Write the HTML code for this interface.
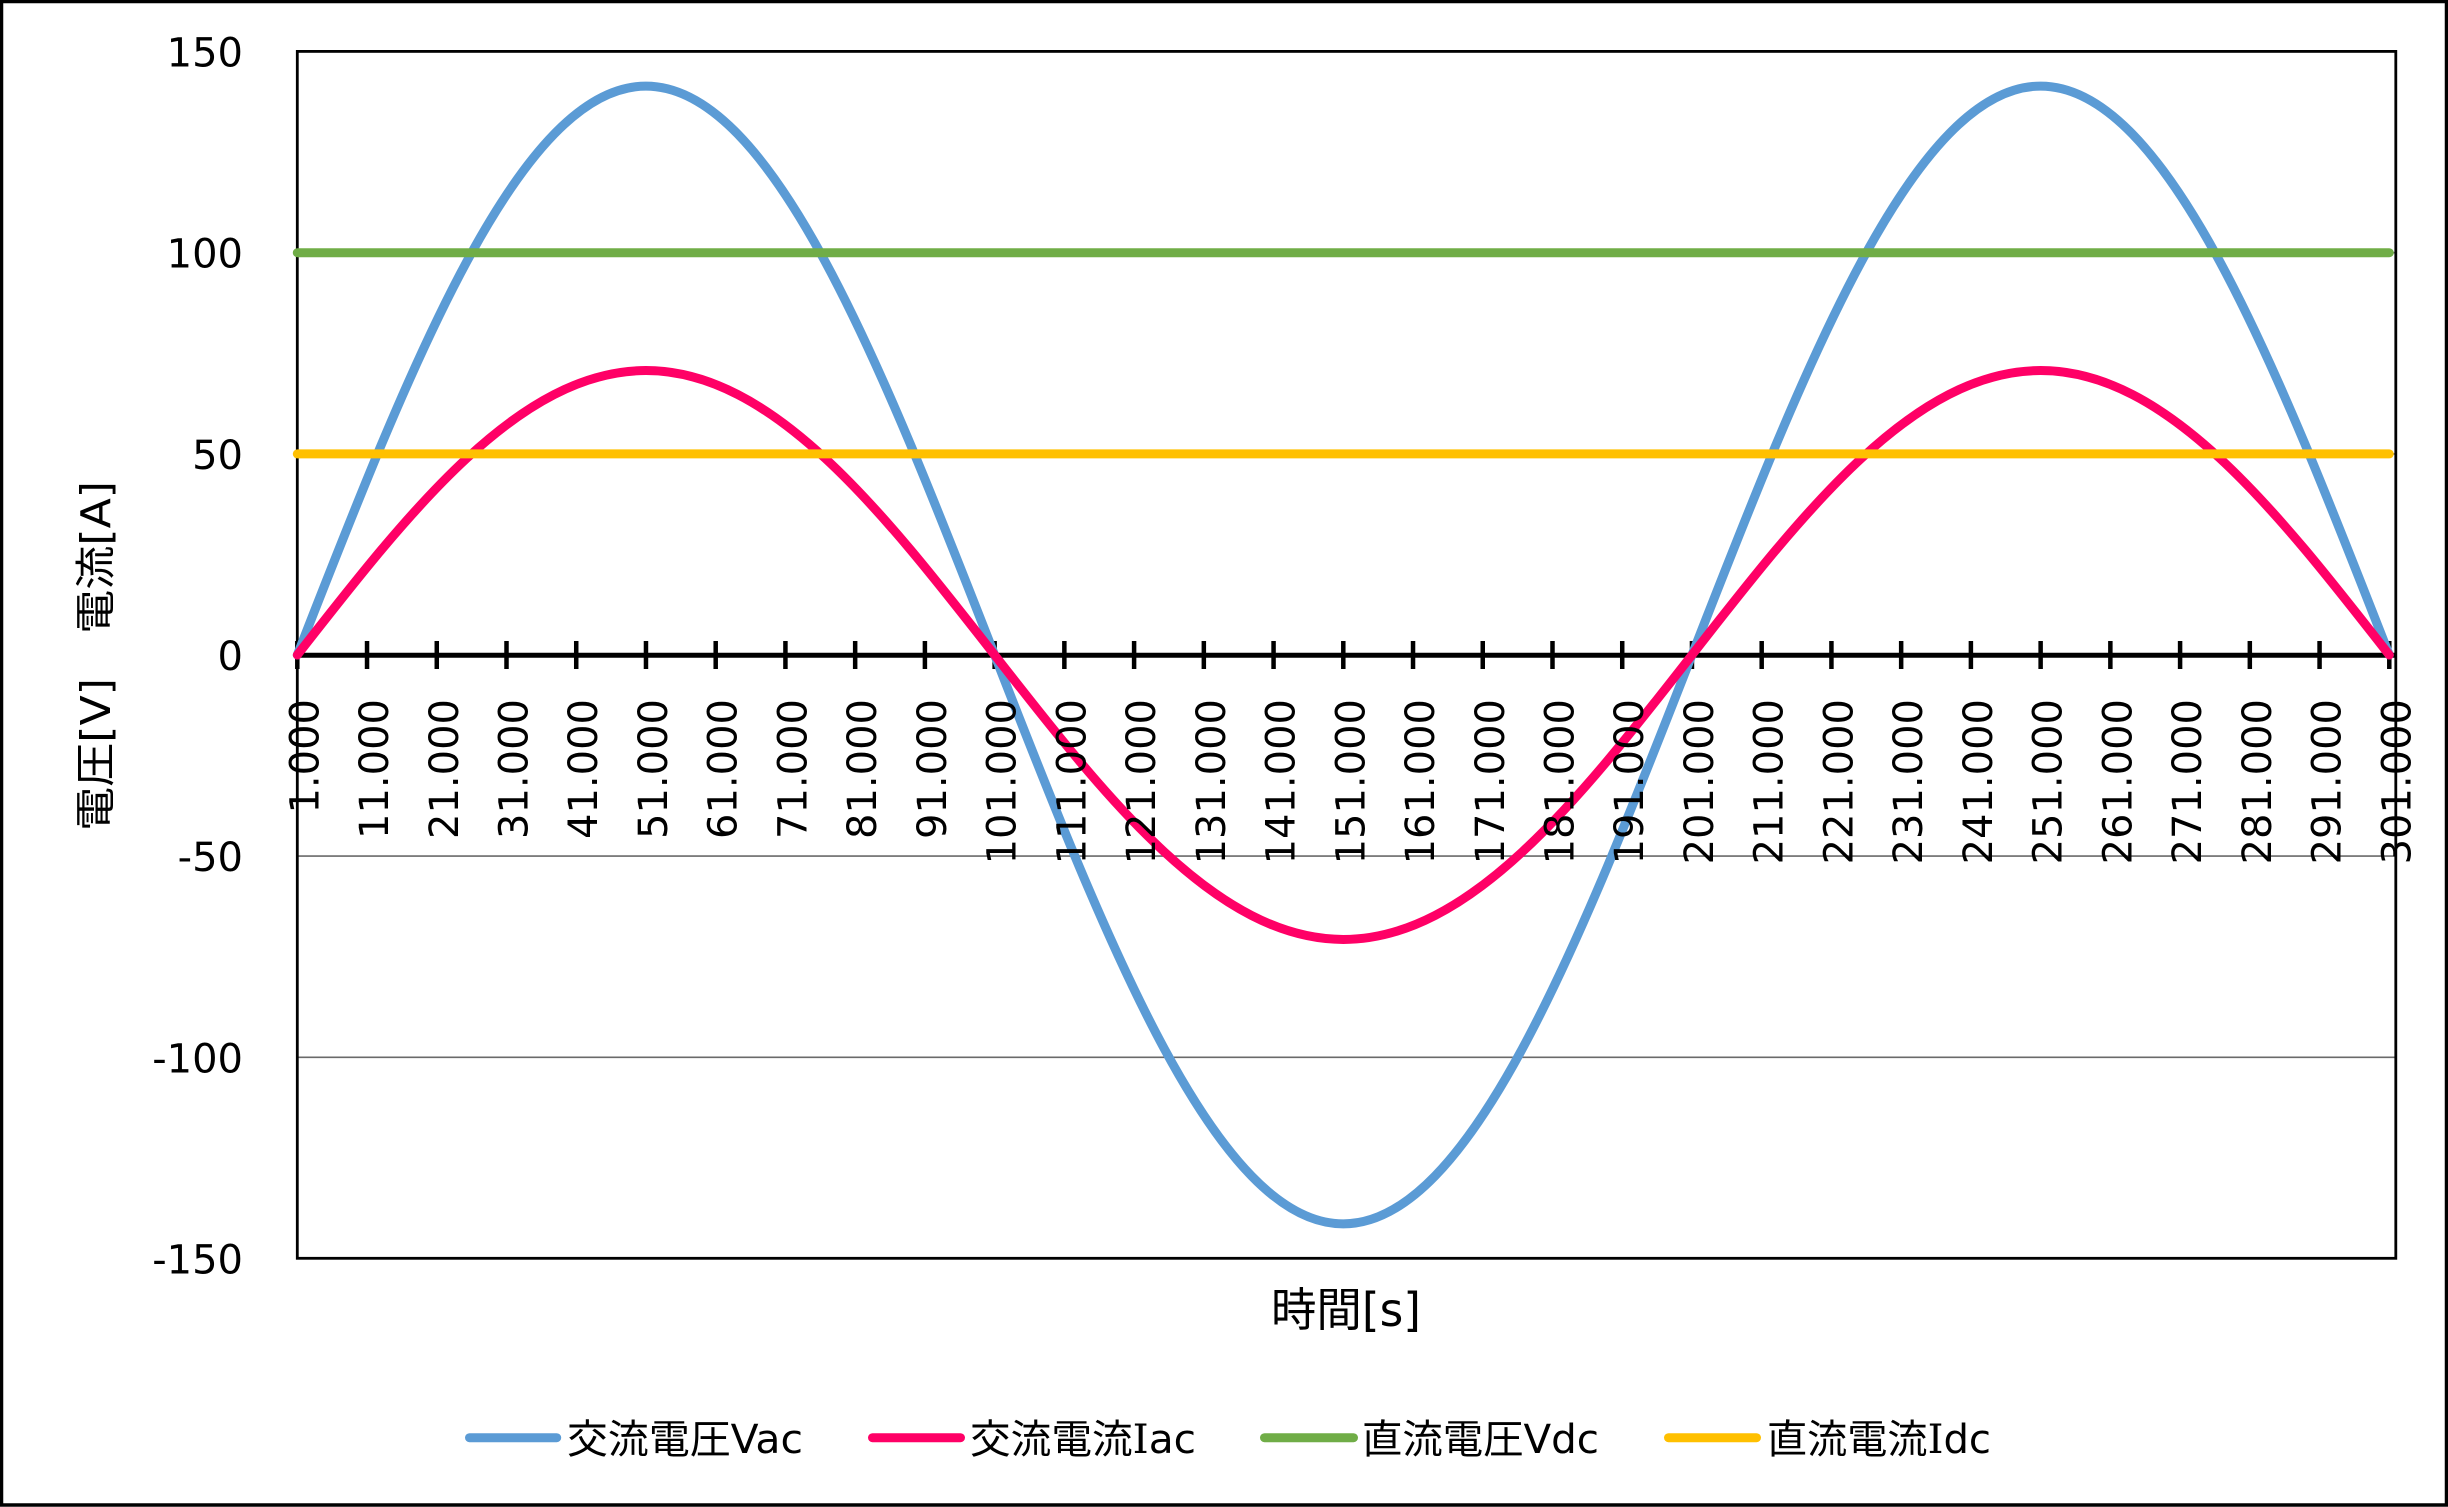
<!DOCTYPE html>
<html>
<head>
<meta charset="utf-8">
<style>
  html, body { margin:0; padding:0; background:#fff; }
  svg { display:block; }
  text { font-family: "DejaVu Sans", "Noto Sans CJK JP", sans-serif; fill:#000; }
  .serif { font-family: "DejaVu Serif", "Liberation Serif", serif; }
</style>
</head>
<body>
<svg width="2448" height="1507" viewBox="0 0 2448 1507" xmlns="http://www.w3.org/2000/svg">
  <rect x="0" y="0" width="2448" height="1507" fill="#fff"/>
  <!-- outer border -->
  <rect x="1.5" y="1.5" width="2445" height="1503.5" fill="none" stroke="#000" stroke-width="3.5"/>

  <!-- gridlines -->
  <g stroke="#6a6a6a" stroke-width="1.6">
    <line x1="297.3" y1="453.9" x2="2396" y2="453.9"/>
    <line x1="297.3" y1="252.7" x2="2396" y2="252.7"/>
    <line x1="297.3" y1="856.1" x2="2396" y2="856.1"/>
    <line x1="297.3" y1="1057.3" x2="2396" y2="1057.3"/>
  </g>

  <!-- plot border -->
  <rect x="297.3" y="51.4" width="2098.5" height="1206.9" fill="none" stroke="#000" stroke-width="2.8"/>

  <!-- zero axis -->
  <line x1="297.3" y1="655.3" x2="2396" y2="655.3" stroke="#000" stroke-width="5"/>
  <!-- ticks -->
  <g stroke="#000" stroke-width="4.5">
    <line x1="297.3" y1="641" x2="297.3" y2="669"/>
    <line x1="367.03" y1="641" x2="367.03" y2="669"/>
    <line x1="436.77" y1="641" x2="436.77" y2="669"/>
    <line x1="506.5" y1="641" x2="506.5" y2="669"/>
    <line x1="576.23" y1="641" x2="576.23" y2="669"/>
    <line x1="645.97" y1="641" x2="645.97" y2="669"/>
    <line x1="715.7" y1="641" x2="715.7" y2="669"/>
    <line x1="785.43" y1="641" x2="785.43" y2="669"/>
    <line x1="855.16" y1="641" x2="855.16" y2="669"/>
    <line x1="924.9" y1="641" x2="924.9" y2="669"/>
    <line x1="994.63" y1="641" x2="994.63" y2="669"/>
    <line x1="1064.36" y1="641" x2="1064.36" y2="669"/>
    <line x1="1134.1" y1="641" x2="1134.1" y2="669"/>
    <line x1="1203.83" y1="641" x2="1203.83" y2="669"/>
    <line x1="1273.56" y1="641" x2="1273.56" y2="669"/>
    <line x1="1343.3" y1="641" x2="1343.3" y2="669"/>
    <line x1="1413.03" y1="641" x2="1413.03" y2="669"/>
    <line x1="1482.76" y1="641" x2="1482.76" y2="669"/>
    <line x1="1552.49" y1="641" x2="1552.49" y2="669"/>
    <line x1="1622.23" y1="641" x2="1622.23" y2="669"/>
    <line x1="1691.96" y1="641" x2="1691.96" y2="669"/>
    <line x1="1761.69" y1="641" x2="1761.69" y2="669"/>
    <line x1="1831.43" y1="641" x2="1831.43" y2="669"/>
    <line x1="1901.16" y1="641" x2="1901.16" y2="669"/>
    <line x1="1970.89" y1="641" x2="1970.89" y2="669"/>
    <line x1="2040.63" y1="641" x2="2040.63" y2="669"/>
    <line x1="2110.36" y1="641" x2="2110.36" y2="669"/>
    <line x1="2180.09" y1="641" x2="2180.09" y2="669"/>
    <line x1="2249.82" y1="641" x2="2249.82" y2="669"/>
    <line x1="2319.56" y1="641" x2="2319.56" y2="669"/>
    <line x1="2389.29" y1="641" x2="2389.29" y2="669"/>
  </g>

  <!-- series -->
  <g fill="none" stroke-width="9" stroke-linecap="round" stroke-linejoin="round">
    <path stroke="#5B9BD5" d="M297.3,655 C411.01,363.56 519.78,86.1 645.97,86.1 C772.15,86.1 880.92,363.56 994.63,655 C1108.34,946.44 1217.11,1223.9 1343.3,1223.9 C1469.48,1223.9 1578.25,946.44 1691.96,655 C1805.67,363.56 1914.44,86.1 2040.63,86.1 C2166.81,86.1 2275.58,363.56 2389.29,655"/>
    <path stroke="#FF0066" d="M297.3,655 C411.01,509.28 519.78,370.55 645.97,370.55 C772.15,370.55 880.92,509.28 994.63,655 C1108.34,800.72 1217.11,939.45 1343.3,939.45 C1469.48,939.45 1578.25,800.72 1691.96,655 C1805.67,509.28 1914.44,370.55 2040.63,370.55 C2166.81,370.55 2275.58,509.28 2389.29,655"/>
    <line stroke="#70AD47" x1="297.3" y1="252.7" x2="2389.29" y2="252.7"/>
    <line stroke="#FFC000" x1="297.3" y1="453.9" x2="2389.29" y2="453.9"/>
  </g>

  <!-- y tick labels -->
  <g font-size="40" text-anchor="end">
    <text x="243" y="66.5">150</text>
    <text x="243" y="267.6">100</text>
    <text x="243" y="468.9">50</text>
    <text x="243" y="670">0</text>
    <text x="243" y="871.1">-50</text>
    <text x="243" y="1072.3">-100</text>
    <text x="243" y="1273.3">-150</text>
  </g>

  <!-- x tick labels -->
  <g font-size="40" text-anchor="end">
    <text transform="translate(318.3,699) rotate(-90)">1.000</text>
    <text transform="translate(388.03,699) rotate(-90)">11.000</text>
    <text transform="translate(457.77,699) rotate(-90)">21.000</text>
    <text transform="translate(527.5,699) rotate(-90)">31.000</text>
    <text transform="translate(597.23,699) rotate(-90)">41.000</text>
    <text transform="translate(666.97,699) rotate(-90)">51.000</text>
    <text transform="translate(736.7,699) rotate(-90)">61.000</text>
    <text transform="translate(806.43,699) rotate(-90)">71.000</text>
    <text transform="translate(876.16,699) rotate(-90)">81.000</text>
    <text transform="translate(945.9,699) rotate(-90)">91.000</text>
    <text transform="translate(1015.63,699) rotate(-90)">101.000</text>
    <text transform="translate(1085.36,699) rotate(-90)">111.000</text>
    <text transform="translate(1155.1,699) rotate(-90)">121.000</text>
    <text transform="translate(1224.83,699) rotate(-90)">131.000</text>
    <text transform="translate(1294.56,699) rotate(-90)">141.000</text>
    <text transform="translate(1364.3,699) rotate(-90)">151.000</text>
    <text transform="translate(1434.03,699) rotate(-90)">161.000</text>
    <text transform="translate(1503.76,699) rotate(-90)">171.000</text>
    <text transform="translate(1573.49,699) rotate(-90)">181.000</text>
    <text transform="translate(1643.23,699) rotate(-90)">191.000</text>
    <text transform="translate(1712.96,699) rotate(-90)">201.000</text>
    <text transform="translate(1782.69,699) rotate(-90)">211.000</text>
    <text transform="translate(1852.43,699) rotate(-90)">221.000</text>
    <text transform="translate(1922.16,699) rotate(-90)">231.000</text>
    <text transform="translate(1991.89,699) rotate(-90)">241.000</text>
    <text transform="translate(2061.63,699) rotate(-90)">251.000</text>
    <text transform="translate(2131.36,699) rotate(-90)">261.000</text>
    <text transform="translate(2201.09,699) rotate(-90)">271.000</text>
    <text transform="translate(2270.82,699) rotate(-90)">281.000</text>
    <text transform="translate(2340.56,699) rotate(-90)">291.000</text>
    <text transform="translate(2410.29,699) rotate(-90)">301.000</text>
  </g>

  <!-- axis titles -->
  <text x="1346" y="1326" font-size="46" text-anchor="middle" textLength="150" lengthAdjust="spacingAndGlyphs">時間[s]</text>
  <text transform="translate(110,656) rotate(-90)" font-size="41" text-anchor="middle" textLength="350" lengthAdjust="spacingAndGlyphs">電圧[V]　電流[A]</text>

  <!-- legend -->
  <g stroke-width="9" stroke-linecap="round">
    <line x1="469.5" y1="1437.7" x2="556.7" y2="1437.7" stroke="#5B9BD5"/>
    <line x1="872.5" y1="1437.7" x2="960.5" y2="1437.7" stroke="#FF0066"/>
    <line x1="1264.5" y1="1437.7" x2="1353.5" y2="1437.7" stroke="#70AD47"/>
    <line x1="1668.5" y1="1437.7" x2="1756.5" y2="1437.7" stroke="#FFC000"/>
  </g>
  <g font-size="40">
    <text x="567" y="1453" textLength="236" lengthAdjust="spacingAndGlyphs">交流電圧Vac</text>
    <text x="970" y="1453" textLength="226" lengthAdjust="spacingAndGlyphs">交流電流<tspan class="serif">I</tspan>ac</text>
    <text x="1362" y="1453" textLength="237" lengthAdjust="spacingAndGlyphs">直流電圧Vdc</text>
    <text x="1767" y="1453" textLength="224" lengthAdjust="spacingAndGlyphs">直流電流<tspan class="serif">I</tspan>dc</text>
  </g>
</svg>
</body>
</html>
